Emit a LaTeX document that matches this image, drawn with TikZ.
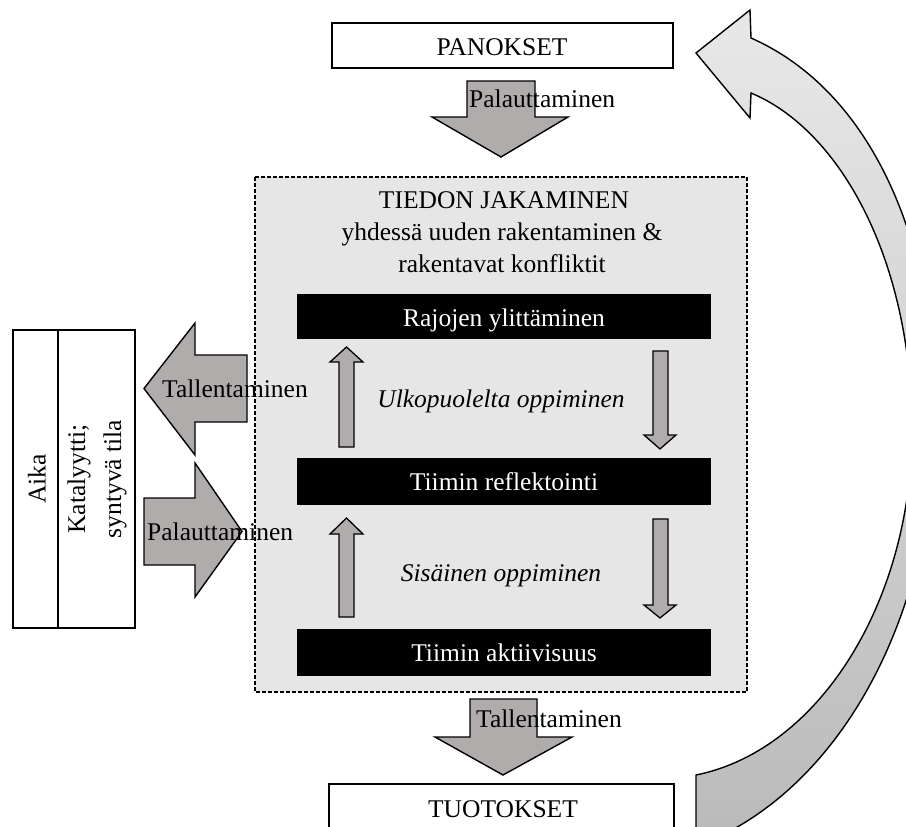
\documentclass[tikz,border=0pt]{standalone}
\usepackage{fontspec}
\setmainfont{Liberation Serif}
\definecolor{arrowgray}{RGB}{176,172,172}
\definecolor{boxgray}{RGB}{230,230,230}
\definecolor{curvetop}{RGB}{232,232,232}
\definecolor{curvebot}{RGB}{186,186,186}
\begin{document}
\begin{tikzpicture}[x=1pt,y=-1pt,
  txt/.style={inner sep=0pt,font=\fontsize{25.5}{30}\selectfont},
  wbox/.style={draw,line width=1.5pt,fill=white},
  blk/.style={fill=black},
  blockarrow/.style={draw,line width=1.4pt,fill=arrowgray,line join=miter},
  smallarrow/.style={draw,line width=1.3pt,fill=arrowgray,line join=miter}]
\useasboundingbox (0,0) rectangle (906,827);
\clip (0,0) rectangle (906,827);

% curved arrow
\path[draw,line width=1.4pt,top color=curvetop,bottom color=curvebot]
  (696,845) -- (696,775) .. controls (820,750) and (912,600) .. (912,430)
  .. controls (912,260) and (840,130) .. (751,93)
  -- (750,118) -- (696,53) -- (750,10) -- (751,38)
  .. controls (880,95) and (940,260) .. (935,430)
  .. controls (930,620) and (840,790) .. (700,845) -- cycle;

% top and bottom boxes
\draw[wbox] (332,23) rectangle (673,68);
\node[txt,anchor=base] (pan) at (502,56) {PANOKSET};
\draw[wbox] (329,784) rectangle (674,845);
\node[txt,anchor=base] (tuo) at (503,817) {TUOTOKSET};

% main dashed box
\draw[fill=boxgray,line width=1.3pt,dash pattern=on 4pt off 2pt] (255,177) rectangle (747,692);
\node[txt,anchor=base] (t1) at (504,208) {TIEDON JAKAMINEN};
\node[txt,anchor=base] (t2) at (502,240) {yhdessä uuden rakentaminen \&};
\node[txt,anchor=base] (t3) at (502,272) {rakentavat konfliktit};

% black bars
\fill[blk] (297,294) rectangle (711,339);
\node[txt,anchor=base,text=white] (raj) at (504,326) {Rajojen ylittäminen};
\fill[blk] (297,458) rectangle (711,505);
\node[txt,anchor=base,text=white] (refl) at (504,490) {Tiimin reflektointi};
\fill[blk] (297,629) rectangle (711,676);
\node[txt,anchor=base,text=white] (akt) at (504,661) {Tiimin aktiivisuus};

% small arrows
\draw[smallarrow] (339,447) -- (339,362) -- (330,362) -- (346.5,347) -- (363,362) -- (354,362) -- (354,447) -- cycle;
\draw[smallarrow] (339,617) -- (339,534) -- (330,534) -- (346.5,518) -- (363,534) -- (354,534) -- (354,617) -- cycle;
\draw[smallarrow] (653,351) -- (668,351) -- (668,435) -- (676,435) -- (660,449) -- (644,435) -- (653,435) -- cycle;
\draw[smallarrow] (653,519) -- (668,519) -- (668,605) -- (676,605) -- (660,618) -- (644,605) -- (653,605) -- cycle;
\node[txt,anchor=base,font=\fontsize{25.5}{30}\selectfont\itshape] (ulko) at (501,407) {Ulkopuolelta oppiminen};
\node[txt,anchor=base,font=\fontsize{25.5}{30}\selectfont\itshape] (sis) at (501,581) {Sisäinen oppiminen};

% left box
\draw[wbox] (13,330) rectangle (135,628);
\draw[line width=1.5pt] (58,330) -- (58,628);
\node[txt,rotate=90] (aika) at (37,479) {Aika};
\node[txt,rotate=90,align=center,font=\fontsize{25.5}{36}\selectfont] (kat) at (97,479) {Katalyytti;\\syntyvä tila};

% block arrows
\draw[blockarrow] (467,81) -- (535,81) -- (535,117) -- (568,117) -- (501,157) -- (432,117) -- (467,117) -- cycle;
\node[txt,anchor=base west] (pal1) at (469,107) {Palauttaminen};
\draw[blockarrow] (470,699) -- (537,699) -- (537,737) -- (572,737) -- (503,775) -- (435,737) -- (470,737) -- cycle;
\node[txt,anchor=base west] (tal2) at (476,727) {Tallentaminen};
\draw[blockarrow] (247,355) -- (247,422) -- (195,422) -- (195,455) -- (144,388.5) -- (195,323) -- (195,355) -- cycle;
\node[txt,anchor=base west] (tal1) at (162,397) {Tallentaminen};
\draw[blockarrow] (144,498) -- (195,498) -- (195,463) -- (242,531.5) -- (195,597) -- (195,565) -- (144,565) -- cycle;
\node[txt,anchor=base west] (pal2) at (147,540) {Palauttaminen};
\end{tikzpicture}
\end{document}
